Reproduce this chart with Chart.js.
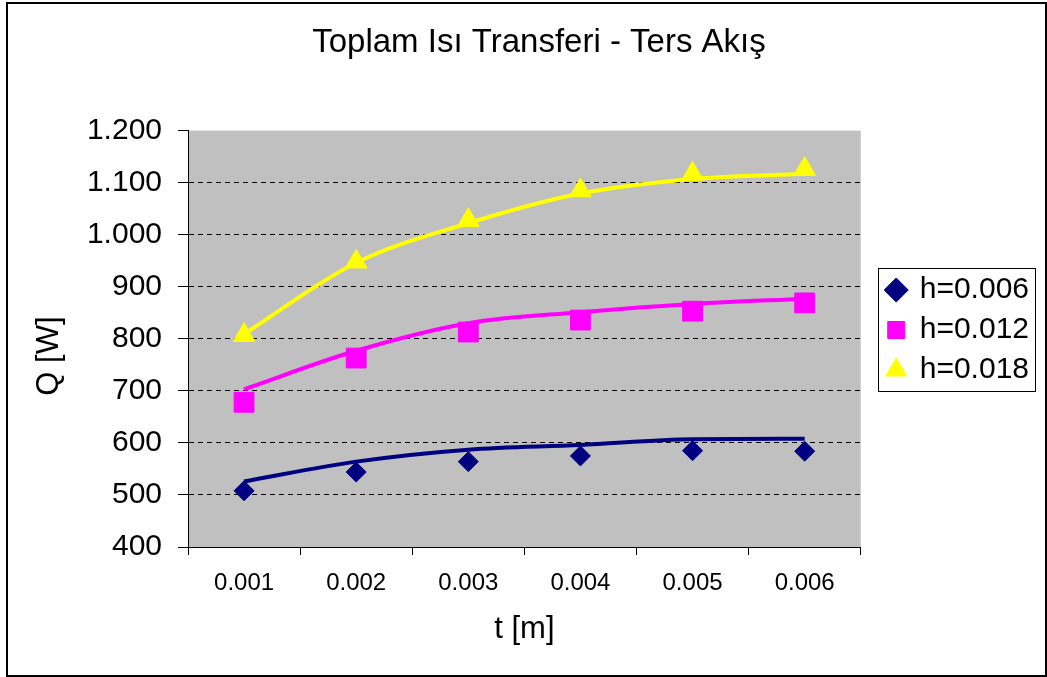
<!DOCTYPE html>
<html>
<head>
<meta charset="utf-8">
<script src="https://cdn.jsdelivr.net/npm/chart.js@4/dist/chart.umd.min.js"></script>
<style>
  html, body { margin: 0; padding: 0; background: #fff; }
  canvas { display: block; }
</style>
</head>
<body>
<canvas id="myChart" width="1047" height="677"></canvas>
<script>
'use strict';

// t [m]
const categories = ['0.001', '0.002', '0.003', '0.004', '0.005', '0.006'];
const seriesNames = ['h=0.006', 'h=0.012', 'h=0.018'];

// measured Q [W]
const h006 = [508, 544, 564, 575, 585, 584];
const h012 = [678, 763, 813, 836, 853, 869];
const h018 = [807, 948, 1028, 1085, 1117, 1126];

// trend lines
const trend006 = [526, 564, 587, 596, 607, 608];
const trend012 = [703, 777, 830, 851, 867, 877];
const trend018 = [809, 946, 1022, 1079, 1107, 1117];

const yTicks = [400, 500, 600, 700, 800, 900, 1000, 1100, 1200];

const FONT = 'Liberation Sans, Arial, sans-serif';

function markers(label, values, color, style, radius) {
  return {
    label: label,
    data: values,
    showLine: false,
    pointStyle: style,
    pointRadius: radius,
    pointHoverRadius: radius,
    backgroundColor: color,
    borderColor: color,
    pointBackgroundColor: color,
    pointBorderColor: color,
    borderWidth: 1,
    order: 0,
  };
}

function trend(values, color) {
  return {
    label: 'trend',
    data: values,
    borderColor: color,
    borderWidth: 4,
    pointRadius: 0,
    fill: false,
    cubicInterpolationMode: 'monotone',
    order: 1,
  };
}

const plotBackground = {
  id: 'plotBackground',
  beforeDraw(chart) {
    const {ctx, chartArea: a} = chart;
    ctx.save();
    ctx.fillStyle = '#C0C0C0';
    ctx.fillRect(a.left, a.top, a.right - a.left, a.bottom - a.top);
    ctx.restore();
  }
};

// Excel puts the legend a bit away from the plot, and the title a bit right of centre
const legendPlace = {
  id: 'legendPlace',
  afterLayout(chart) {
    const lg = chart.legend;
    const dx = chart.chartArea.right + 17 - lg.left;
    lg.left += dx; lg.right += dx;
    lg.top += 4; lg.bottom += 4;
    const tb = chart.titleBlock;
    if (tb) { tb.left += 18; tb.right += 18; }
  },
  afterDraw(chart) {
    const {ctx} = chart;
    const lg = chart.legend;
    const cy = (lg.top + lg.bottom) / 2;
    ctx.save();
    ctx.strokeStyle = '#000';
    ctx.lineWidth = 1;
    ctx.strokeRect(Math.round(lg.left) + 0.5, Math.round(cy - 62) + 0.5, 157, 123);
    // outer chart frame
    ctx.lineWidth = 2;
    ctx.strokeRect(7, 3, 1039, 673);
    ctx.restore();
  }
};

const ctx = document.getElementById('myChart');
const myChart = new Chart(ctx, {
  type: 'line',
  data: {
    labels: categories,
    datasets: [
      markers(seriesNames[0], h006, '#000080', 'rectRot', 10),
      markers(seriesNames[1], h012, '#FF00FF', 'rect', 14),
      markers(seriesNames[2], h018, '#FFFF00', 'triangle', 12.5),
      trend(trend006, '#000080'),
      trend(trend012, '#FF00FF'),
      trend(trend018, '#FFFF00'),
    ]
  },
  options: {
    responsive: false,
    devicePixelRatio: 1,
    animation: false,
    layout: { padding: { left: 20, right: 25, top: 0, bottom: 25 } },
    plugins: {
      title: {
        display: true,
        text: 'Toplam Isı Transferi - Ters Akış',
        color: '#000',
        font: { family: FONT, size: 33, weight: 'normal' },
        padding: { top: 23, bottom: 68 },
      },
      legend: {
        position: 'right',
        align: 'center',
        labels: {
          usePointStyle: true,
          boxWidth: 17,
          boxHeight: 17,
          padding: 10,
          color: '#000',
          font: { family: FONT, size: 30 },
          filter: (item) => item.datasetIndex < 3,
        }
      },
      tooltip: { enabled: false },
    },
    scales: {
      x: {
        offset: true,
        grid: {
          offset: true,
          drawOnChartArea: false,
          tickLength: 8,
          tickColor: '#000',
        },
        border: { display: true, color: '#000', width: 1 },
        ticks: {
          color: '#000',
          padding: 14,
          maxRotation: 0,
          font: { family: FONT, size: 24 },
        },
        title: {
          display: true,
          text: 't [m]',
          color: '#000',
          font: { family: FONT, size: 31 },
          padding: { top: 0, bottom: 4 },
        },
        afterFit(scale) { scale.height = 105; }
      },
      y: {
        min: 400,
        max: 1200,
        afterBuildTicks(scale) { scale.ticks = yTicks.map(v => ({value: v})); },
        grid: {
          color: (c) => (c.tick && (c.tick.value === 1200 || c.tick.value === 400)) ? 'rgba(0,0,0,0)' : '#000',
          tickColor: '#000',
          tickLength: 10,
          tickBorderDash: [],
        },
        border: { display: true, color: '#000', width: 1, dash: [5, 4] },
        ticks: {
          color: '#000',
          padding: 16,
          font: { family: FONT, size: 30 },
          callback: (v) => String(v).replace(/\B(?=(\d{3})+(?!\d))/g, '.'),
        },
        title: {
          display: true,
          text: 'Q [W]    ',
          color: '#000',
          font: { family: FONT, size: 31 },
          padding: { top: 11, bottom: 0 },
        },
        afterFit(scale) { scale.width = 168; }
      }
    }
  },
  plugins: [plotBackground, legendPlace]
});
</script>
</body>
</html>
